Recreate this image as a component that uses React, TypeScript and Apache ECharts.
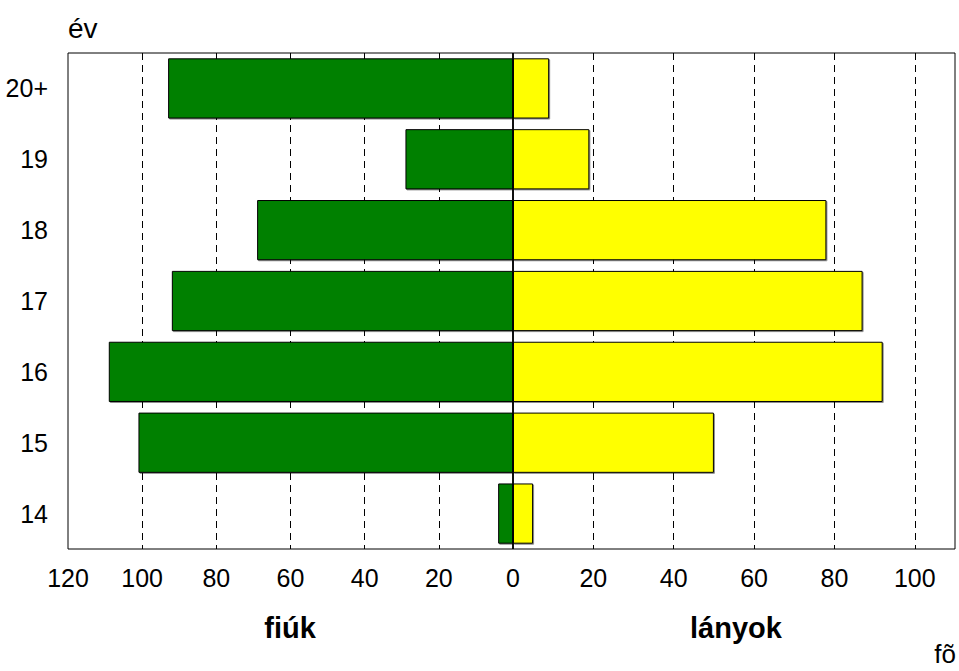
import React, { useEffect, useRef } from "react";
import * as echarts from "echarts";

const categories = ["14", "15", "16", "17", "18", "19", "20+"];
const boys = [4, 101, 109, 92, 69, 29, 93];
const girls = [5, 50, 92, 87, 78, 19, 9];
const leftTicksMax = 120;
const rightTicksMax = 110;

const SANS = "'Liberation Sans', Arial, sans-serif";

export default function App() {
  const ref = useRef<HTMLDivElement>(null);
  useEffect(() => {
    if (!ref.current) return;
    const chart = echarts.init(ref.current, undefined, { renderer: "svg" });
    const gridLine = { show: true, showMinLine: false, showMaxLine: false, lineStyle: { color: "#000", width: 1, type: [7, 5] } };
    const label = { color: "#000", fontFamily: SANS, fontSize: 25 };
    const barShadow = { shadowColor: "rgba(0,0,0,0.45)", shadowOffsetX: 1, shadowOffsetY: 1, shadowBlur: 0 };
    chart.setOption({
      animation: false,
      backgroundColor: "#fff",
      grid: [
        { left: 68, top: 53, width: 445, height: 496, show: true, borderColor: "#000", borderWidth: 1, containLabel: false },
        { left: 513, top: 53, width: 442, height: 496, show: true, borderColor: "#000", borderWidth: 1, containLabel: false },
      ],
      xAxis: [
        {
          gridIndex: 0, type: "value", min: 0, max: leftTicksMax, interval: 20, inverse: true,
          axisLine: { show: false }, axisTick: { show: false },
          axisLabel: { ...label, margin: 16, formatter: (v: number) => String(v) },
          splitLine: gridLine,
        },
        {
          gridIndex: 1, type: "value", min: 0, max: rightTicksMax, interval: 20,
          axisLine: { show: false }, axisTick: { show: false },
          axisLabel: { ...label, margin: 16, formatter: (v: number) => (v === 0 || v > 100 ? "" : String(v)) },
          splitLine: gridLine,
        },
      ],
      yAxis: [
        {
          gridIndex: 0, type: "category", data: categories, position: "left",
          axisLine: { show: false, onZero: false }, axisTick: { show: false },
          axisLabel: { ...label, margin: 20 },
          splitLine: { show: false },
        },
        {
          gridIndex: 1, type: "category", data: categories, position: "left",
          axisLine: { show: false, onZero: false }, axisTick: { show: false },
          axisLabel: { show: false }, splitLine: { show: false },
        },
      ],
      series: [
        {
          type: "bar", name: "fiúk", xAxisIndex: 0, yAxisIndex: 0, data: boys, barCategoryGap: "15%",
          itemStyle: { color: "#008000", borderColor: "#000", borderWidth: 1, ...barShadow },
        },
        {
          type: "bar", name: "lányok", xAxisIndex: 1, yAxisIndex: 1, data: girls, barCategoryGap: "15%",
          itemStyle: { color: "#ffff00", borderColor: "#000", borderWidth: 1, ...barShadow },
          markLine: {
            silent: true, symbol: "none", label: { show: false },
            lineStyle: { color: "#000", width: 1.5, type: "solid" },
            data: [{ xAxis: 0 }],
          },
        },
      ],
      graphic: [
        { type: "text", left: 68, top: 14, style: { text: "év", fontFamily: SANS, fontSize: 28, fill: "#000" } },
        { type: "text", x: 290, y: 628, style: { text: "fiúk", fontFamily: SANS, fontSize: 29, fontWeight: "bold", fill: "#000", align: "center", verticalAlign: "middle" } },
        { type: "text", x: 736, y: 628, style: { text: "lányok", fontFamily: SANS, fontSize: 29, fontWeight: "bold", fill: "#000", align: "center", verticalAlign: "middle" } },
        { type: "text", x: 956, y: 654, style: { text: "fõ", fontFamily: SANS, fontSize: 26, fill: "#000", align: "right", verticalAlign: "middle" } },
      ],
    });
    return () => chart.dispose();
  }, []);
  return <div ref={ref} style={{ position: "fixed", left: 0, top: 0, width: 959, height: 671 }} />;
}
